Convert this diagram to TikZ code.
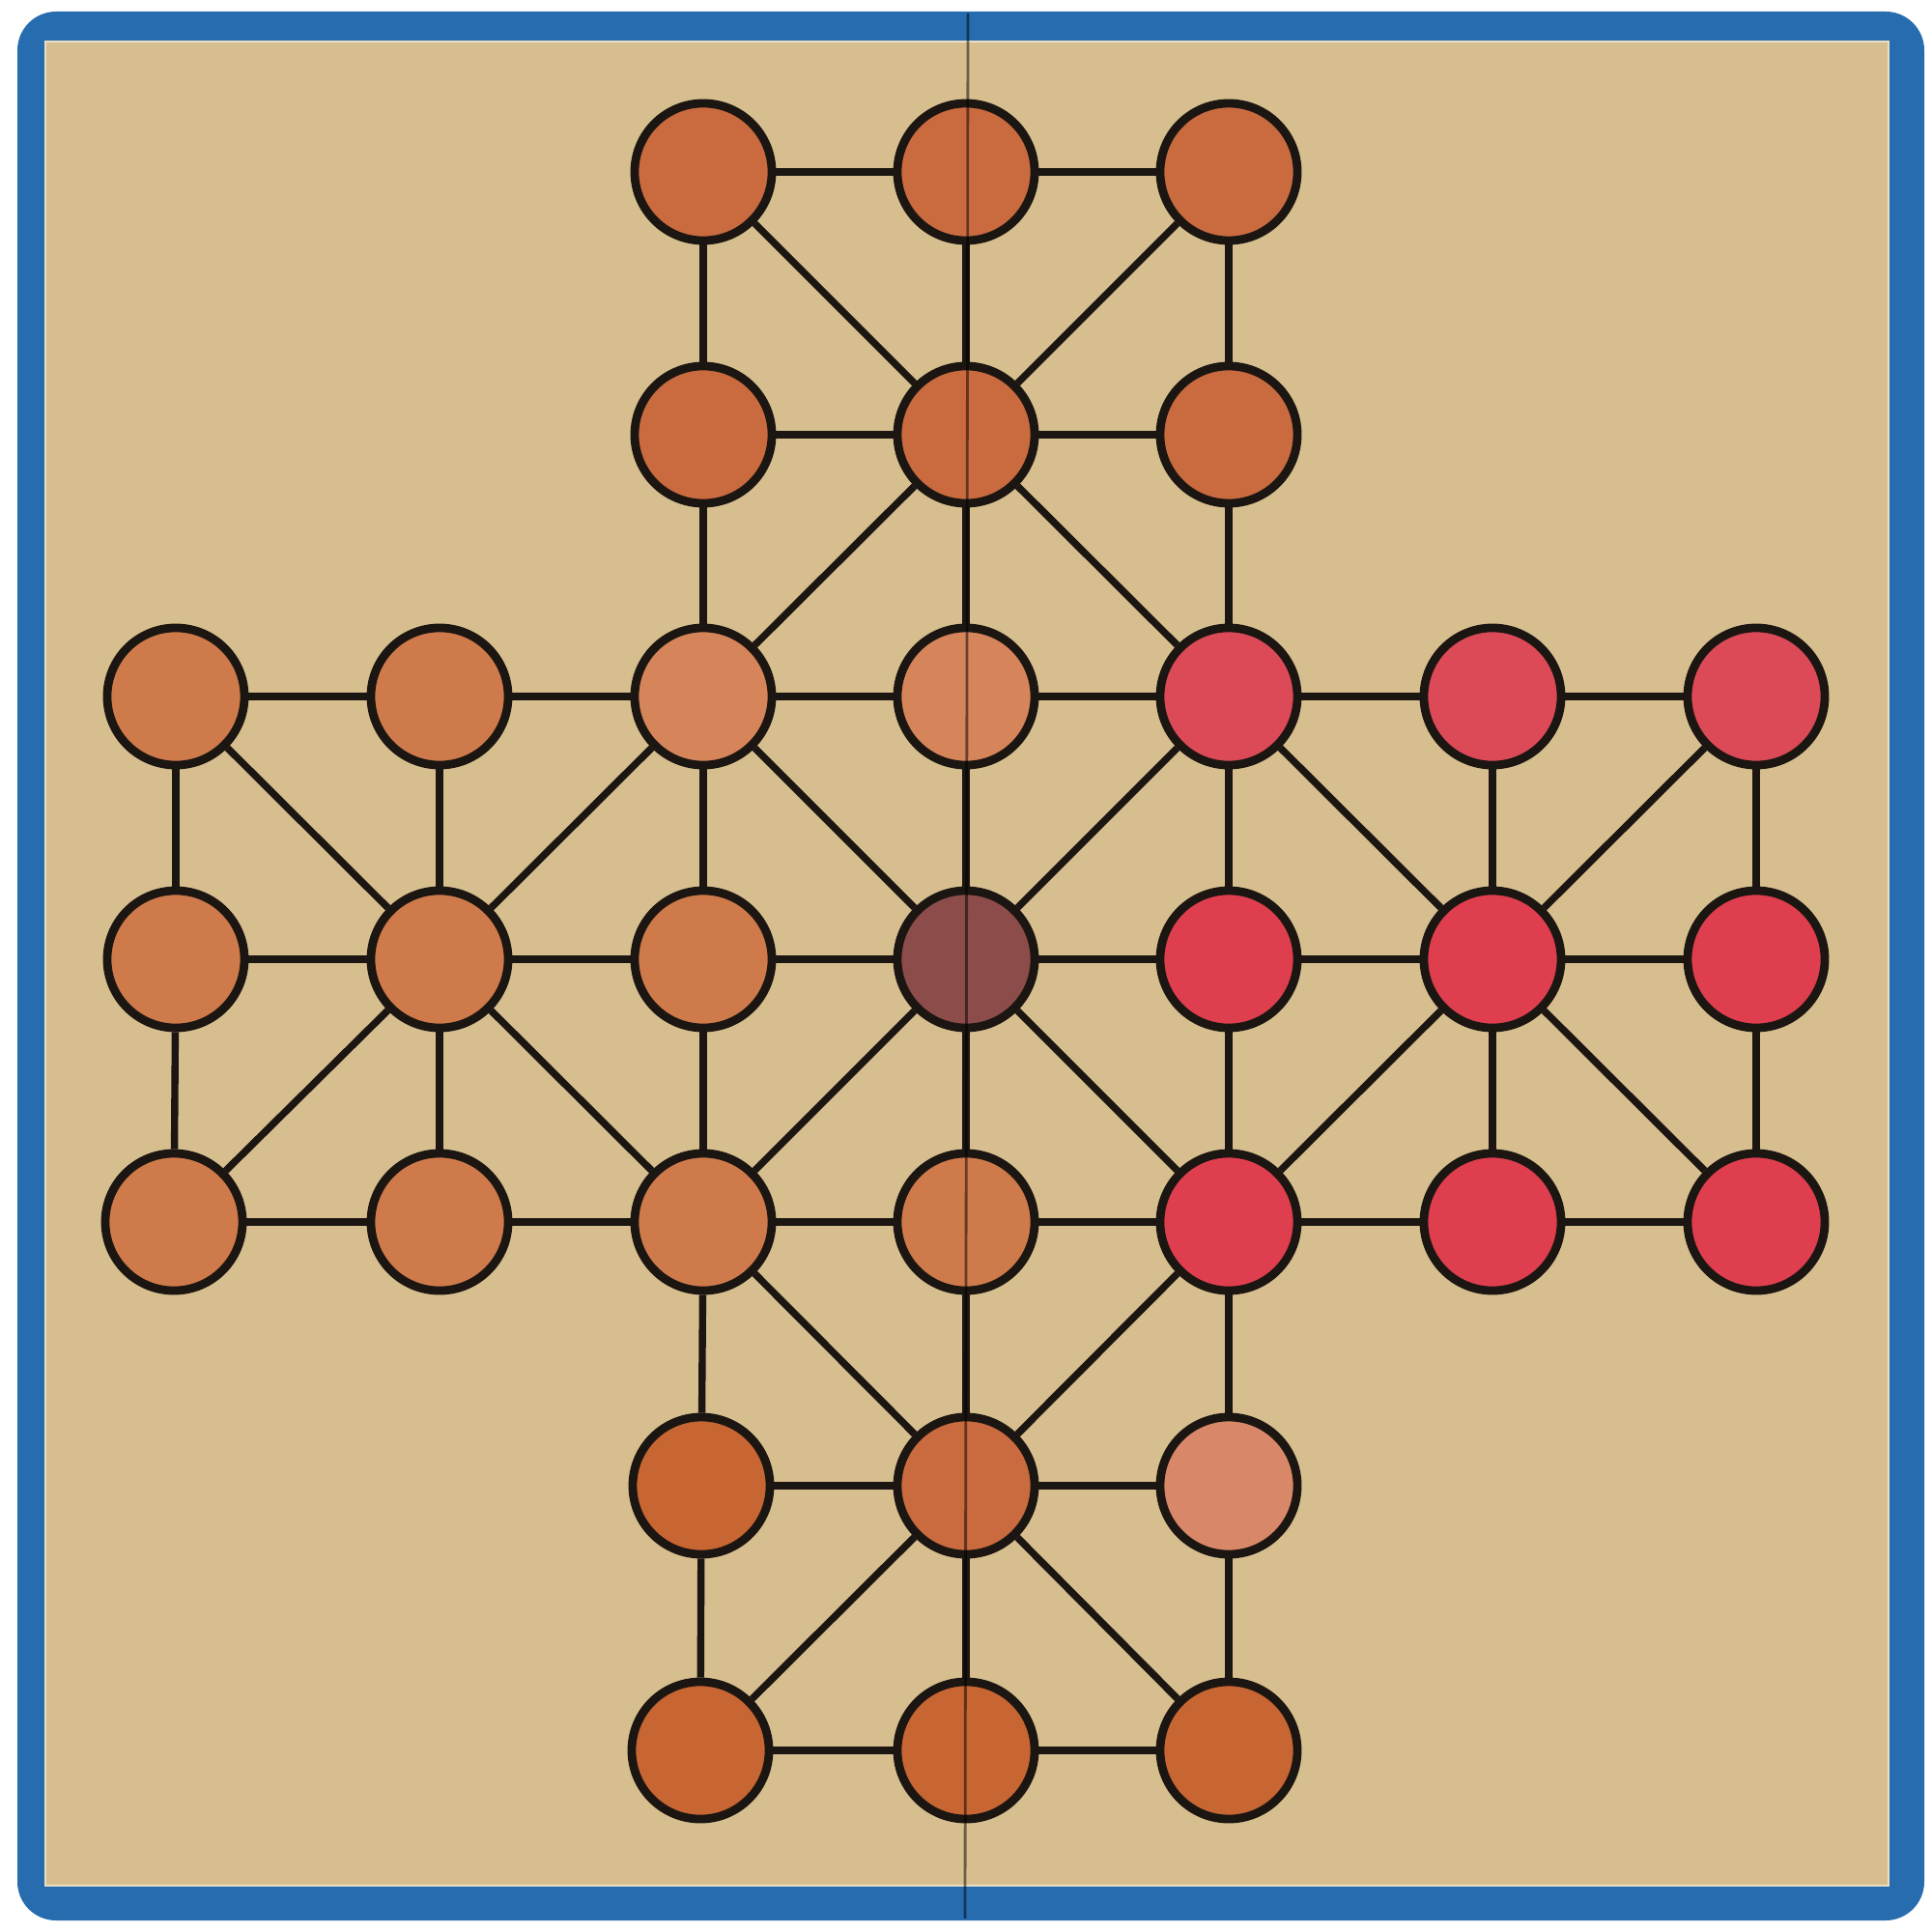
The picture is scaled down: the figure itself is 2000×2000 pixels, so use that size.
\documentclass[tikz,border=0pt]{standalone}
\definecolor{boardblue}{RGB}{40,108,176}
\definecolor{boardbeige}{RGB}{214,190,142}
\definecolor{edgeline}{RGB}{28,22,18}
\definecolor{ordark}{RGB}{201,106,63}
\definecolor{ormid}{RGB}{207,122,74}
\definecolor{orlight}{RGB}{214,132,90}
\definecolor{orbot}{RGB}{199,102,50}
\definecolor{orglare}{RGB}{216,136,104}
\definecolor{redtop}{RGB}{220,74,88}
\definecolor{redpt}{RGB}{222,62,78}
\definecolor{centre}{RGB}{140,76,74}
\begin{document}
\begin{tikzpicture}[x=0.01cm,y=-0.01cm,
  pt/.style={circle,draw=edgeline,line width=2.5pt,minimum size=1.42cm,inner sep=0pt},
  ln/.style={line width=2.1pt,draw=edgeline},
  fold/.style={line width=0.8pt,draw=black,opacity=0.5}]
\useasboundingbox (0,0) rectangle (2000,2000);
\fill[white] (0,0) rectangle (2000,2000);
\fill[boardblue,rounded corners=0.4cm] (18,12) rectangle (1992,1988);
\filldraw[fill=boardbeige,draw=boardbeige!50!white,line width=0.6pt] (47,43) rectangle (1955,1952);
% top arm
\node[pt,fill=ordark] (a20) at (728,178) {};
\node[pt,fill=ordark] (a30) at (1000,178) {};
\node[pt,fill=ordark] (a40) at (1272,178) {};
\node[pt,fill=ordark] (a21) at (728,450) {};
\node[pt,fill=ordark] (a31) at (1000,450) {};
\node[pt,fill=ordark] (a41) at (1272,450) {};
% row 2
\node[pt,fill=ormid] (a02) at (182,721) {};
\node[pt,fill=ormid] (a12) at (455,721) {};
\node[pt,fill=orlight] (a22) at (728,721) {};
\node[pt,fill=orlight] (a32) at (1000,721) {};
\node[pt,fill=redtop] (a42) at (1272,721) {};
\node[pt,fill=redtop] (a52) at (1545,721) {};
\node[pt,fill=redtop] (a62) at (1818,721) {};
% row 3
\node[pt,fill=ormid] (a03) at (182,993) {};
\node[pt,fill=ormid] (a13) at (455,993) {};
\node[pt,fill=ormid] (a23) at (728,993) {};
\node[pt,fill=centre] (a33) at (1000,993) {};
\node[pt,fill=redpt] (a43) at (1272,993) {};
\node[pt,fill=redpt] (a53) at (1545,993) {};
\node[pt,fill=redpt] (a63) at (1818,993) {};
% row 4
\node[pt,fill=ormid] (a04) at (180,1265) {};
\node[pt,fill=ormid] (a14) at (455,1265) {};
\node[pt,fill=ormid] (a24) at (728,1265) {};
\node[pt,fill=ormid] (a34) at (1000,1265) {};
\node[pt,fill=redpt] (a44) at (1272,1265) {};
\node[pt,fill=redpt] (a54) at (1545,1265) {};
\node[pt,fill=redpt] (a64) at (1818,1265) {};
% bottom arm
\node[pt,fill=orbot] (a25) at (726,1538) {};
\node[pt,fill=ordark] (a35) at (1000,1538) {};
\node[pt,fill=orglare] (a45) at (1272,1538) {};
\node[pt,fill=orbot] (a26) at (725,1812) {};
\node[pt,fill=orbot] (a36) at (1000,1812) {};
\node[pt,fill=orbot] (a46) at (1272,1812) {};
% orthogonal lines
\foreach \p/\q in {a20/a30,a30/a40,a21/a31,a31/a41,
  a02/a12,a12/a22,a22/a32,a32/a42,a42/a52,a52/a62,
  a03/a13,a13/a23,a23/a33,a33/a43,a43/a53,a53/a63,
  a04/a14,a14/a24,a24/a34,a34/a44,a44/a54,a54/a64,
  a25/a35,a35/a45,a26/a36,a36/a46,
  a20/a21,a21/a22,a22/a23,a23/a24,a24/a25,a25/a26,
  a30/a31,a31/a32,a32/a33,a33/a34,a34/a35,a35/a36,
  a40/a41,a41/a42,a42/a43,a43/a44,a44/a45,a45/a46,
  a02/a03,a03/a04,a12/a13,a13/a14,
  a52/a53,a53/a54,a62/a63,a63/a64}
  \draw[ln] (\p) -- (\q);
% diagonal lines
\foreach \p/\q in {a20/a31,a40/a31,a31/a22,a31/a42,
  a02/a13,a22/a13,a13/a04,a13/a24,
  a22/a33,a42/a33,a33/a24,a33/a44,
  a42/a53,a62/a53,a53/a44,a53/a64,
  a24/a35,a44/a35,a35/a26,a35/a46}
  \draw[ln] (\p) -- (\q);
% fold of the board
\coordinate (ftop) at (1002,14);
\coordinate (fbot) at (999,1986);
\draw[fold] (ftop) -- (fbot);
\end{tikzpicture}
\end{document}
